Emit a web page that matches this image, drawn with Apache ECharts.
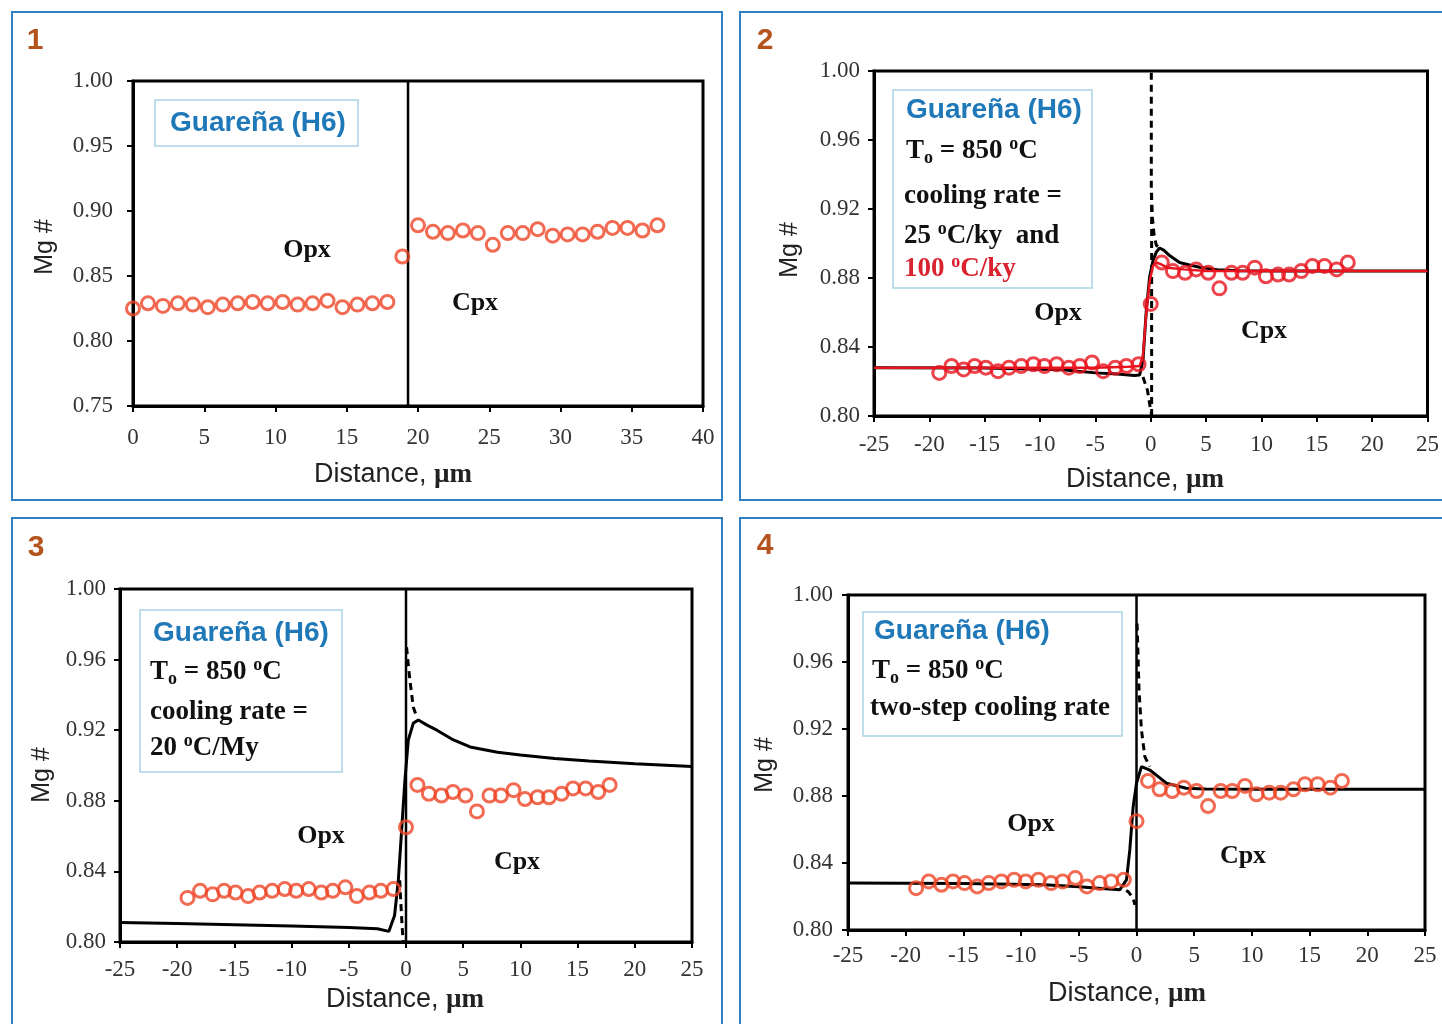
<!DOCTYPE html>
<html><head><meta charset="utf-8">
<script src="https://cdn.jsdelivr.net/npm/echarts@6/dist/echarts.min.js"></script>
<style>html,body{margin:0;padding:0;background:#fff}#c{width:1442px;height:1024px}</style>
</head><body><div id="c"></div>
<script>
// ---- measured data (Mg#) ----
const opxMg = [0.825,0.829,0.827,0.829,0.828,0.826,0.828,0.829,0.830,0.829,0.830,0.828,0.829,0.831,0.826,0.828,0.829,0.830];
const interfaceMg = [0.865];
const cpxMg = [0.889,0.884,0.883,0.885,0.883,0.874,0.883,0.883,0.886,0.881,0.882,0.882,0.884,0.887,0.887,0.885,0.889];
// panel 1 distances (profile start at 0)
const p1OpxX = [0,1.05,2.1,3.15,4.2,5.25,6.3,7.35,8.4,9.45,10.5,11.55,12.6,13.65,14.7,15.75,16.8,17.85];
const p1InterfaceX = [18.9];
const p1CpxX = [20.0,21.05,22.1,23.15,24.2,25.25,26.3,27.35,28.4,29.45,30.5,31.55,32.6,33.65,34.7,35.75,36.8];
const p1BoundaryX = [19.3,19.3];
const p1BoundaryY = [0.75,1.00];
// panels 2-4 distances (interface at 0)
const opxX = [-19.1,-18.0,-16.9,-15.9,-14.9,-13.8,-12.8,-11.7,-10.6,-9.6,-8.5,-7.4,-6.4,-5.3,-4.3,-3.2,-2.2,-1.1];
const interfaceX = [0];
const cpxX = [1.0,2.0,3.1,4.1,5.2,6.2,7.3,8.3,9.4,10.4,11.5,12.5,13.6,14.6,15.7,16.8,17.8];
// panel 2 model curves
const p2SolidX = [-25,-15,-8,-5,-3,-1.5,-1.0,-0.7,-0.4,-0.1,0.2,0.5,0.8,1.2,1.7,2.6,3.5,4.4,6,8,12,25];
const p2SolidY = [0.828,0.8278,0.8268,0.825,0.8243,0.8235,0.8238,0.8325,0.8614,0.8806,0.890,0.895,0.8974,0.896,0.893,0.889,0.8875,0.8862,0.8848,0.8842,0.884,0.884];
const p2RedX = [-25,-5,-2,-1,-0.7,-0.4,-0.1,0.2,0.5,0.9,1.5,3,5,25];
const p2RedY = [0.828,0.828,0.8285,0.829,0.835,0.860,0.878,0.887,0.889,0.888,0.886,0.885,0.884,0.884];
const p2DashCpxX = [0.05,0.05,0.15,0.3,0.5,0.8];
const p2DashCpxY = [0.999,0.93,0.915,0.905,0.899,0.8975];
const p2DashOpxX = [-0.7,-0.3,-0.05,0.1];
const p2DashOpxY = [0.8226,0.815,0.805,0.80];
const p2DashVertX = [0.08,0.08];
const p2DashVertY = [0.80,0.93];
// panel 3 model curves
const p3SolidX = [-25,-20,-15,-10,-5,-2.5,-1.5,-1.0,-0.67,-0.38,-0.09,0.2,0.64,1.08,1.8,2.7,4,5.6,8,10,13,16,20,25];
const p3SolidY = [0.8110,0.8105,0.8098,0.809,0.8082,0.8075,0.806,0.815,0.835,0.8635,0.892,0.9144,0.924,0.9258,0.923,0.920,0.915,0.9105,0.9075,0.906,0.904,0.9025,0.901,0.8995];
const p3DashCpxX = [0.05,0.2,0.35,0.5,0.64,0.93];
const p3DashCpxY = [0.967,0.957,0.948,0.940,0.933,0.9277];
const p3DashOpxX = [-0.55,-0.45,-0.35,-0.25];
const p3DashOpxY = [0.835,0.822,0.810,0.800];
// panel 4 model curves
const p4SolidX = [-25,-15,-8,-5,-3,-1.45,-0.87,-0.58,-0.29,0,0.43,1.15,1.8,2.6,4.3,6,10,25];
const p4SolidY = [0.828,0.8278,0.827,0.8258,0.8248,0.824,0.8299,0.8478,0.8736,0.8876,0.8975,0.8955,0.892,0.8876,0.8846,0.8842,0.884,0.884];
const p4DashCpxX = [0.05,0.22,0.43,0.72,1.15];
const p4DashCpxY = [0.983,0.943,0.9194,0.9035,0.8975];
const p4DashOpxX = [-0.9,-0.72,-0.29,-0.14];
const p4DashOpxY = [0.8235,0.8229,0.819,0.815];
const boundaryX = [0,0];
const boundaryY = [0.80,1.00];

const zip = (xs, ys) => xs.map((x, i) => [x, ys[i]]);

const SERIF = 'Liberation Serif';
const SANS = 'Liberation Sans';
const markerOrange = '#ee4526';
const markerRed = '#e8141e';
const TICKFS = 23;

const grids = [
  {left:133, top:81, width:570, height:325},
  {left:874, top:71, width:554, height:345},
  {left:120, top:589, width:572, height:353},
  {left:848, top:595, width:577, height:335}
].map(g => Object.assign({show:true, borderColor:'#000', borderWidth:3, backgroundColor:'#fff'}, g));

function xAx(i, min, max, margin) {
  return {gridIndex:i, type:'value', min:min, max:max, interval:5,
    axisLine:{show:true, onZero:false, lineStyle:{color:'#000', width:3}},
    axisTick:{show:true, inside:false, length:6, lineStyle:{color:'#000', width:2}},
    axisLabel:{fontFamily:SERIF, fontSize:TICKFS, color:'#333', margin:margin},
    splitLine:{show:false}};
}
function yAx(i, min, max, interval, margin) {
  return {gridIndex:i, type:'value', min:min, max:max, interval:interval,
    axisLine:{show:true, onZero:false, lineStyle:{color:'#000', width:3}},
    axisTick:{show:true, inside:false, length:6, lineStyle:{color:'#000', width:2}},
    axisLabel:{fontFamily:SERIF, fontSize:TICKFS, color:'#333', margin:margin, formatter:v => v.toFixed(2)},
    splitLine:{show:false}};
}
function scat(i, xs, ys, color) {
  return {type:'scatter', xAxisIndex:i, yAxisIndex:i, data:zip(xs, ys), symbol:'circle', symbolSize:13,
    itemStyle:{color:'rgba(255,255,255,0)', borderColor:color, borderWidth:3}, z:5, silent:true};
}
function line(i, xs, ys, color, width, type, z) {
  return {type:'line', xAxisIndex:i, yAxisIndex:i, data:zip(xs, ys), showSymbol:false, symbol:'none',
    lineStyle:{color:color, width:width, type:type || 'solid'}, z:z || 3, silent:true};
}

const series = [
  line(0, p1BoundaryX, p1BoundaryY, '#000', 2.5),
  scat(0, p1OpxX, opxMg, markerOrange), scat(0, p1InterfaceX, interfaceMg, markerOrange), scat(0, p1CpxX, cpxMg, markerOrange),

  line(1, p2DashVertX, p2DashVertY, '#000', 3, [7,5]),
  line(1, p2DashCpxX, p2DashCpxY, '#000', 3, [7,5]),
  line(1, p2DashOpxX, p2DashOpxY, '#000', 3, [7,5]),
  line(1, p2SolidX, p2SolidY, '#000', 3),
  line(1, p2RedX, p2RedY, '#e8141e', 2.5, 'solid', 4),
  scat(1, opxX, opxMg, markerRed), scat(1, interfaceX, interfaceMg, markerRed), scat(1, cpxX, cpxMg, markerRed),

  line(2, boundaryX, boundaryY, '#000', 2.5),
  line(2, p3DashCpxX, p3DashCpxY, '#000', 3, [7,5]),
  line(2, p3DashOpxX, p3DashOpxY, '#000', 3, [7,5]),
  line(2, p3SolidX, p3SolidY, '#000', 3),
  scat(2, opxX, opxMg, markerOrange), scat(2, interfaceX, interfaceMg, markerOrange), scat(2, cpxX, cpxMg, markerOrange),

  line(3, boundaryX, boundaryY, '#000', 2.5),
  line(3, p4DashCpxX, p4DashCpxY, '#000', 3, [7,5]),
  line(3, p4DashOpxX, p4DashOpxY, '#000', 3, [7,5]),
  line(3, p4SolidX, p4SolidY, '#000', 3),
  scat(3, opxX, opxMg, markerOrange), scat(3, interfaceX, interfaceMg, markerOrange), scat(3, cpxX, cpxMg, markerOrange)
];

// ---- decorations ----
const BLUE = '#2f7fc1';
const LABEL_BLUE = '#1f78b8';
const BOXLINE = '#a9d3e6';
const NUM = '#b4531c';
const g = [];
function rect(x, y, w, h, stroke, lw) { g.push({type:'rect', shape:{x, y, width:w, height:h}, style:{fill:'none', stroke, lineWidth:lw}, z:1}); }
function boxRect(x, y, w, h) { g.push({type:'rect', shape:{x, y, width:w, height:h}, style:{fill:'#fff', stroke:BOXLINE, lineWidth:1.5}, z:10}); }
function txt(x, y, text, style, rot) {
  g.push({type:'text', x, y, rotation:rot || 0, z:20, style:Object.assign({text, textAlign:'center', textVerticalAlign:'middle'}, style)});
}
const FS = 27, SFS = 18, LH = 32;
const richT = {
  t:{fontFamily:SERIF, fontWeight:'bold', fontSize:FS, lineHeight:LH, fill:'#111', verticalAlign:'middle'},
  r:{fontFamily:SERIF, fontWeight:'bold', fontSize:FS, lineHeight:LH, fill:'#d9232e', verticalAlign:'middle'},
  sub:{fontFamily:SERIF, fontWeight:'bold', fontSize:SFS, lineHeight:LH, fill:'#111', verticalAlign:'bottom'},
  sup:{fontFamily:SERIF, fontWeight:'bold', fontSize:SFS, lineHeight:LH, fill:'#111', verticalAlign:'top'},
  rsup:{fontFamily:SERIF, fontWeight:'bold', fontSize:SFS, lineHeight:LH, fill:'#d9232e', verticalAlign:'top'}
};
function rtxt(x, y, text) {
  g.push({type:'text', x, y, z:20, style:{text, rich:richT, textAlign:'left', textVerticalAlign:'middle'}});
}
const guarStyle = {fontFamily:SANS, fontWeight:'bold', fontSize:28, fill:LABEL_BLUE};
const phaseStyle = {fontFamily:SERIF, fontWeight:'bold', fontSize:26, fill:'#111'};
const numStyle = {fontFamily:SANS, fontWeight:'bold', fontSize:30, fill:NUM};
const mgStyle = {fontFamily:SANS, fontSize:25, fill:'#222'};
const distRich = {a:{fontFamily:SANS, fontSize:27, fill:'#222'}, b:{fontFamily:SERIF, fontWeight:'bold', fontSize:27, fill:'#222'}};

// panel frames
rect(12, 12, 710, 488, BLUE, 2);
rect(740, 12, 710, 488, BLUE, 2);
rect(12, 518, 710, 520, BLUE, 2);
rect(740, 518, 710, 520, BLUE, 2);
txt(35, 41, '1', numStyle); txt(765, 41, '2', numStyle); txt(36, 548, '3', numStyle); txt(765, 546, '4', numStyle);

// panel 1
boxRect(155, 100, 203, 46);
txt(258, 123, 'Guareña (H6)', guarStyle);
txt(307, 250, 'Opx', phaseStyle); txt(475, 303, 'Cpx', phaseStyle);
txt(45, 247, 'Mg #', mgStyle, Math.PI/2);
txt(393, 475, '{a|Distance, }{b|µm}', {rich:distRich});

// panel 2
boxRect(893, 90, 199, 198);
txt(994, 110, 'Guareña (H6)', guarStyle);
rtxt(906, 151, '{t|T}{sub|o}{t| = 850 }{sup|o}{t|C}');
rtxt(904, 196, '{t|cooling rate =}');
rtxt(904, 236, '{t|25 }{sup|o}{t|C/ky  and}');
rtxt(904, 269, '{r|100 }{rsup|o}{r|C/ky}');
txt(1058, 313, 'Opx', phaseStyle); txt(1264, 331, 'Cpx', phaseStyle);
txt(790, 250, 'Mg #', mgStyle, Math.PI/2);
txt(1145, 480, '{a|Distance, }{b|µm}', {rich:distRich});

// panel 3
boxRect(140, 610, 202, 162);
txt(241, 633, 'Guareña (H6)', guarStyle);
rtxt(150, 672, '{t|T}{sub|o}{t| = 850 }{sup|o}{t|C}');
rtxt(150, 712, '{t|cooling rate =}');
rtxt(150, 748, '{t|20 }{sup|o}{t|C/My}');
txt(321, 836, 'Opx', phaseStyle); txt(517, 862, 'Cpx', phaseStyle);
txt(42, 775, 'Mg #', mgStyle, Math.PI/2);
txt(405, 1000, '{a|Distance, }{b|µm}', {rich:distRich});

// panel 4
boxRect(863, 612, 259, 124);
txt(962, 631, 'Guareña (H6)', guarStyle);
rtxt(872, 671, '{t|T}{sub|o}{t| = 850 }{sup|o}{t|C}');
rtxt(870, 708, '{t|two-step cooling rate}');
txt(1031, 824, 'Opx', phaseStyle); txt(1243, 856, 'Cpx', phaseStyle);
txt(765, 765, 'Mg #', mgStyle, Math.PI/2);
txt(1127, 994, '{a|Distance, }{b|µm}', {rich:distRich});

const chart = echarts.init(document.getElementById('c'), null, {renderer:'canvas'});
chart.setOption({
  animation:false,
  backgroundColor:'#fff',
  grid:grids,
  xAxis:[xAx(0,0,40,20), xAx(1,-25,25,17), xAx(2,-25,25,16), xAx(3,-25,25,14)],
  yAxis:[yAx(0,0.75,1.00,0.05,20), yAx(1,0.80,1.00,0.04,14), yAx(2,0.80,1.00,0.04,14), yAx(3,0.80,1.00,0.04,15)],
  series:series,
  graphic:g
});
</script>
</body></html>
